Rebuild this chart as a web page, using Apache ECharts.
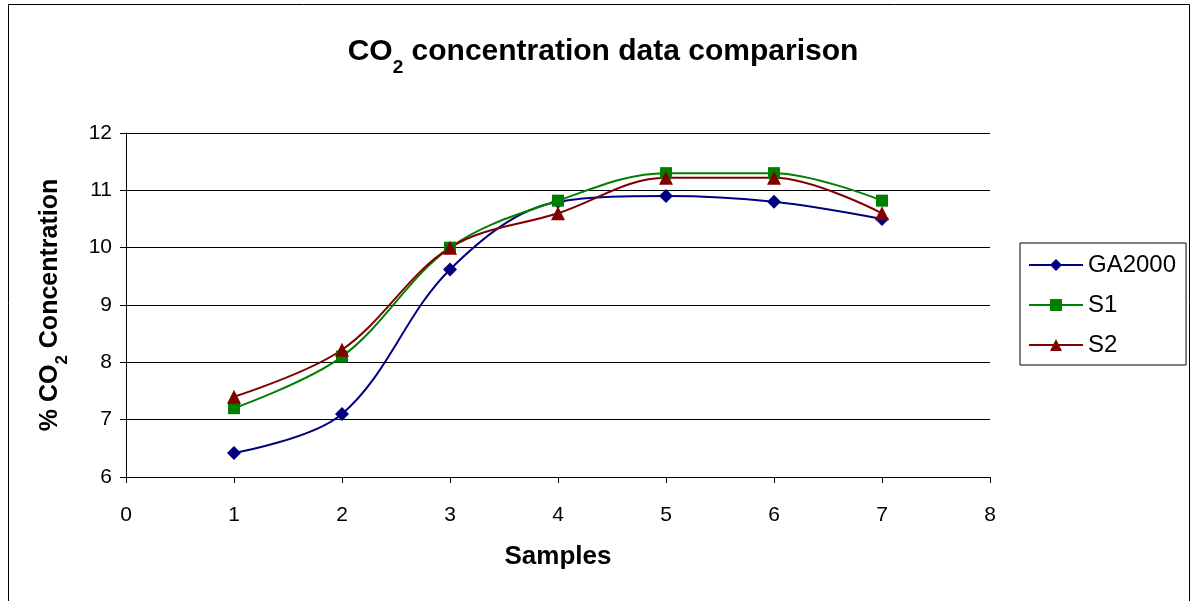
<!DOCTYPE html>
<html><head><meta charset="utf-8">
<script src="https://cdn.jsdelivr.net/npm/echarts@6/dist/echarts.min.js"></script>
<style>html,body{margin:0;padding:0;background:#fff}#c{width:1191px;height:601px}</style>
</head><body><div id="c"></div>
<script>
var samples = [1, 2, 3, 4, 5, 6, 7];
var ga2000 = [6.42, 7.1, 9.62, 10.8, 10.9, 10.8, 10.5];
var s1 = [7.2, 8.1, 10.0, 10.82, 11.3, 11.3, 10.82];
var s2 = [7.4, 8.22, 10.0, 10.6, 11.22, 11.22, 10.6];
var xTicks = [0, 8, 1];
var yTicks = [6, 12, 1];

function pairs(v){ return samples.map(function(x,i){ return [x, v[i]]; }); }
var font = 'Liberation Sans, Arial, sans-serif';
var chart = echarts.init(document.getElementById('c'), null, {renderer:'canvas'});
chart.setOption({
  animation: false,
  backgroundColor: '#fff',
  title: {
    text: '{a|CO}{s|2}{a| concentration data comparison}',
    left: 598, top: 32, textAlign: 'center',
    textStyle: { rich: {
      a: { fontFamily: font, fontWeight: 'bold', fontSize: 30, color: '#000' },
      s: { fontFamily: font, fontWeight: 'bold', fontSize: 19, color: '#000', verticalAlign: 'bottom', padding: [0,0,-10,0] }
    } }
  },
  graphic: [{ type: 'rect', shape: { x: 8.5, y: 4.5, width: 1181, height: 620 }, style: { fill: 'none', stroke: '#000', lineWidth: 1 }, silent: true }],
  legend: {
    orient: 'vertical', left: 1020, top: 243,
    padding: [10, 10, 8, 8], itemGap: 16, itemWidth: 54, itemHeight: 15,
    borderColor: '#000', borderWidth: 1,
    textStyle: { fontFamily: font, fontSize: 24, color: '#000' },
    data: ['GA2000', 'S1', 'S2']
  },
  grid: { left: 126, right: 201, top: 133, bottom: 124, containLabel: false },
  xAxis: {
    type: 'value', min: xTicks[0], max: xTicks[1], interval: xTicks[2],
    name: 'Samples', nameLocation: 'middle', nameGap: 67,
    nameTextStyle: { fontFamily: font, fontWeight: 'bold', fontSize: 26, color: '#000' },
    axisLine: { onZero: false, lineStyle: { color: '#000', width: 1 } },
    axisTick: { show: true, length: 6, lineStyle: { color: '#000' } },
    axisLabel: { fontFamily: font, fontSize: 21, color: '#000', margin: 28 },
    splitLine: { show: false }
  },
  yAxis: {
    type: 'value', min: yTicks[0], max: yTicks[1], interval: yTicks[2],
    name: '{a|% CO}{s|2}{a| Concentration}', nameLocation: 'middle', nameGap: 63, nameRotate: 90,
    nameTextStyle: { rich: {
      a: { fontFamily: font, fontWeight: 'bold', fontSize: 25, color: '#000' },
      s: { fontFamily: font, fontWeight: 'bold', fontSize: 17, color: '#000', verticalAlign: 'bottom', padding: [0,0,-8,0] }
    } },
    axisLine: { show: true, lineStyle: { color: '#000', width: 1 } },
    axisTick: { show: true, length: 6, lineStyle: { color: '#000' } },
    axisLabel: { fontFamily: font, fontSize: 21, color: '#000', margin: 14 },
    splitLine: { show: true, lineStyle: { color: '#000', width: 1 } }
  },
  series: [
    { name: 'GA2000', type: 'line', data: pairs(ga2000), smooth: 0.35, symbol: 'diamond', symbolSize: 14,
      itemStyle: { color: '#000080' }, lineStyle: { color: '#000080', width: 2 } },
    { name: 'S1', type: 'line', data: pairs(s1), smooth: 0.35, symbol: 'rect', symbolSize: 12,
      itemStyle: { color: '#008000' }, lineStyle: { color: '#008000', width: 2 } },
    { name: 'S2', type: 'line', data: pairs(s2), smooth: 0.35, symbol: 'triangle', symbolSize: 14,
      itemStyle: { color: '#800000' }, lineStyle: { color: '#800000', width: 2 } }
  ]
});
</script></body></html>
